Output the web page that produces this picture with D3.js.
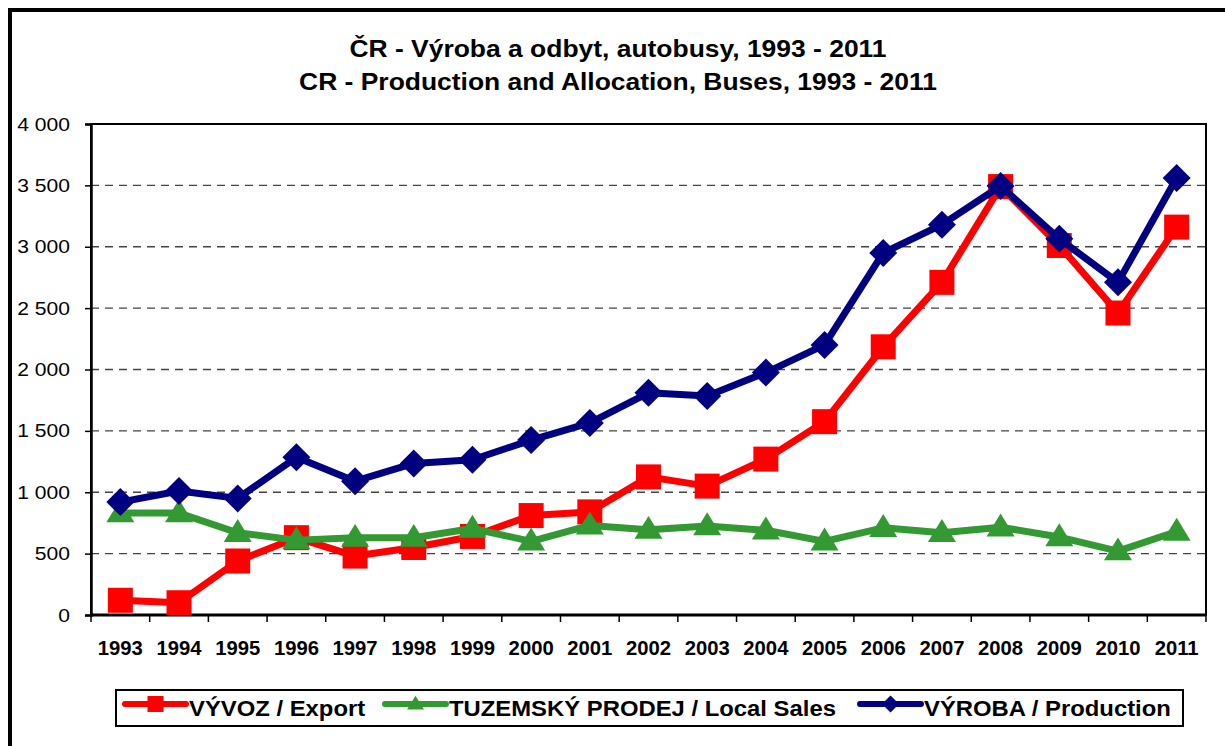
<!DOCTYPE html>
<html>
<head>
<meta charset="utf-8">
<script src="https://cdn.jsdelivr.net/npm/d3@7"></script>
<style>
  body { margin: 0; background: #fff; }
  text { font-family: "Liberation Sans", Arial, sans-serif; fill: #000; }
</style>
</head>
<body>
<svg id="chart" width="1225" height="746"></svg>
<script>
const years = ["1993", "1994", "1995", "1996", "1997", "1998", "1999", "2000", "2001", "2002",
  "2003", "2004", "2005", "2006", "2007", "2008", "2009", "2010", "2011"];
const exportValues = [120, 100, 440, 630, 480, 550, 640, 810, 840, 1125,
  1050, 1270, 1575, 2185, 2710, 3490, 3010, 2460, 3160];
const localSalesValues = [830, 830, 670, 610, 630, 630, 705, 600, 730, 695,
  725, 690, 600, 710, 670, 715, 635, 520, 680];
const productionValues = [920, 1010, 950, 1285, 1090, 1235, 1265, 1425, 1565, 1810,
  1785, 1975, 2200, 2950, 3180, 3495, 3065, 2710, 3560];
const yTicks = [0, 500, 1000, 1500, 2000, 2500, 3000, 3500, 4000];
const titleLines = ["ČR - Výroba a odbyt, autobusy, 1993 - 2011",
  "CR - Production and Allocation, Buses, 1993 - 2011"];
const seriesNames = ["VÝVOZ / Export", "TUZEMSKÝ PRODEJ / Local Sales", "VÝROBA / Production"];

const series = [
  { name: seriesNames[0], values: exportValues, color: "#FF0000", marker: "square" },
  { name: seriesNames[1], values: localSalesValues, color: "#339933", marker: "triangle" },
  { name: seriesNames[2], values: productionValues, color: "#000080", marker: "diamond" }
];

var svg = d3.select("#chart"),
  margin = { top: 124, right: 19, bottom: 131, left: 91 },
  width = +svg.attr("width") - margin.left - margin.right,
  height = +svg.attr("height") - margin.top - margin.bottom;

// outer frame, runs off the right and bottom edge like the original
svg.append("rect")
  .attr("x", 10).attr("y", 10)
  .attr("width", 1240).attr("height", 760)
  .attr("fill", "none").attr("stroke", "#000").attr("stroke-width", 4);

// title (source looks horizontally stretched, so scale the text a bit)
svg.selectAll(".title")
  .data(titleLines)
  .enter()
  .append("text")
  .attr("class", "title")
  .attr("transform", (d, i) => "translate(618," + (i === 0 ? 57 : 90) + ") scale(1.14,1)")
  .attr("text-anchor", "middle")
  .style("font-size", "23.2px")
  .style("font-weight", "bold")
  .text(d => d);

var x = d3.scaleBand().domain(years).range([0, width]);
var y = d3.scaleLinear().domain([0, 4000]).range([height, 0]);

var fmt = d3.formatLocale({ decimal: ",", thousands: "\u00a0", grouping: [3], currency: ["", ""] }).format(",");

var g = svg.append("g")
  .attr("transform", "translate(" + margin.left + "," + margin.top + ")");

// dashed gridlines
g.selectAll(".grid")
  .data(yTicks.filter(d => d > 0 && d < 4000))
  .enter()
  .append("line")
  .attr("x1", 0).attr("x2", width)
  .attr("y1", d => y(d)).attr("y2", d => y(d))
  .attr("stroke", "#444").attr("stroke-width", 1.3)
  .attr("stroke-dasharray", "8,6");

// plot border
g.append("rect")
  .attr("width", width).attr("height", height)
  .attr("fill", "none").attr("stroke", "#000").attr("stroke-width", 2);

// y axis
var yAxis = g.append("g")
  .call(d3.axisLeft(y).tickValues(yTicks).tickFormat(fmt).tickSize(6).tickPadding(13));
yAxis.select(".domain").attr("stroke-width", 2.5);
yAxis.selectAll(".tick line").attr("stroke-width", 1.5);
yAxis.selectAll("text")
  .style("font-size", "19px")
  .style("font-family", "'Liberation Sans', Arial, sans-serif")
  .attr("transform", "scale(1.11,1)");

// x axis: ticks on band boundaries, labels centred in bands
var xAxisG = g.append("g").attr("transform", "translate(0," + height + ")");
xAxisG.append("line")
  .attr("x1", 0).attr("x2", width)
  .attr("stroke", "#000").attr("stroke-width", 3);
xAxisG.selectAll(".xtick")
  .data(years.concat(["end"]))
  .enter()
  .append("line")
  .attr("x1", (d, i) => i * x.step()).attr("x2", (d, i) => i * x.step())
  .attr("y1", 0).attr("y2", 7)
  .attr("stroke", "#000").attr("stroke-width", 1.5);
xAxisG.selectAll(".xlabel")
  .data(years)
  .enter()
  .append("text")
  .attr("transform", d => "translate(" + (x(d) + x.bandwidth() / 2) + ",40) scale(1.05,1)")
  .attr("text-anchor", "middle")
  .style("font-size", "19.3px")
  .style("font-weight", "bold")
  .text(d => d);

function markerPath(type, s) {
  if (type === "square") return "M" + (-s / 2) + "," + (-s / 2) + "h" + s + "v" + s + "h" + (-s) + "Z";
  if (type === "diamond") return "M0," + (-s / 2) + "L" + (s / 2) + ",0L0," + (s / 2) + "L" + (-s / 2) + ",0Z";
  var h = s * 0.82;
  return "M0," + (-h * 0.6) + "L" + (s / 2) + "," + (h * 0.4) + "L" + (-s / 2) + "," + (h * 0.4) + "Z";
}
var markerSize = { square: 25, diamond: 28, triangle: 28 };

var line = d3.line()
  .x((d, i) => x(years[i]) + x.bandwidth() / 2)
  .y(d => y(d));

series.forEach(function(s) {
  g.append("path")
    .datum(s.values)
    .attr("d", line)
    .attr("fill", "none")
    .attr("stroke", s.color)
    .attr("stroke-width", 7)
    .attr("stroke-linejoin", "round");

  g.selectAll(".m-" + s.marker)
    .data(s.values)
    .enter()
    .append("path")
    .attr("class", "m-" + s.marker)
    .attr("transform", (d, i) => "translate(" + (x(years[i]) + x.bandwidth() / 2) + "," + y(d) + ")")
    .attr("d", markerPath(s.marker, markerSize[s.marker]))
    .attr("fill", s.color);
});

// legend
var legend = svg.append("g");
legend.append("rect")
  .attr("x", 116).attr("y", 690)
  .attr("width", 1067).attr("height", 36)
  .attr("fill", "#fff").attr("stroke", "#000").attr("stroke-width", 2);

var legendX = [125, 385, 860];
series.forEach(function(s, i) {
  var lg = legend.append("g").attr("transform", "translate(" + legendX[i] + ",704)");
  lg.append("line")
    .attr("x1", 0).attr("x2", 61)
    .attr("stroke", s.color).attr("stroke-width", 6)
    .attr("stroke-linecap", "round");
  lg.append("path")
    .attr("transform", "translate(30.5,0)")
    .attr("d", markerPath(s.marker, s.marker === "square" ? 16 : 17))
    .attr("fill", s.color);
  lg.append("text")
    .attr("transform", "translate(64,12) scale(1.07,1)")
    .style("font-size", "22.3px")
    .style("font-weight", "bold")
    .text(s.name);
});
</script>
</body>
</html>
